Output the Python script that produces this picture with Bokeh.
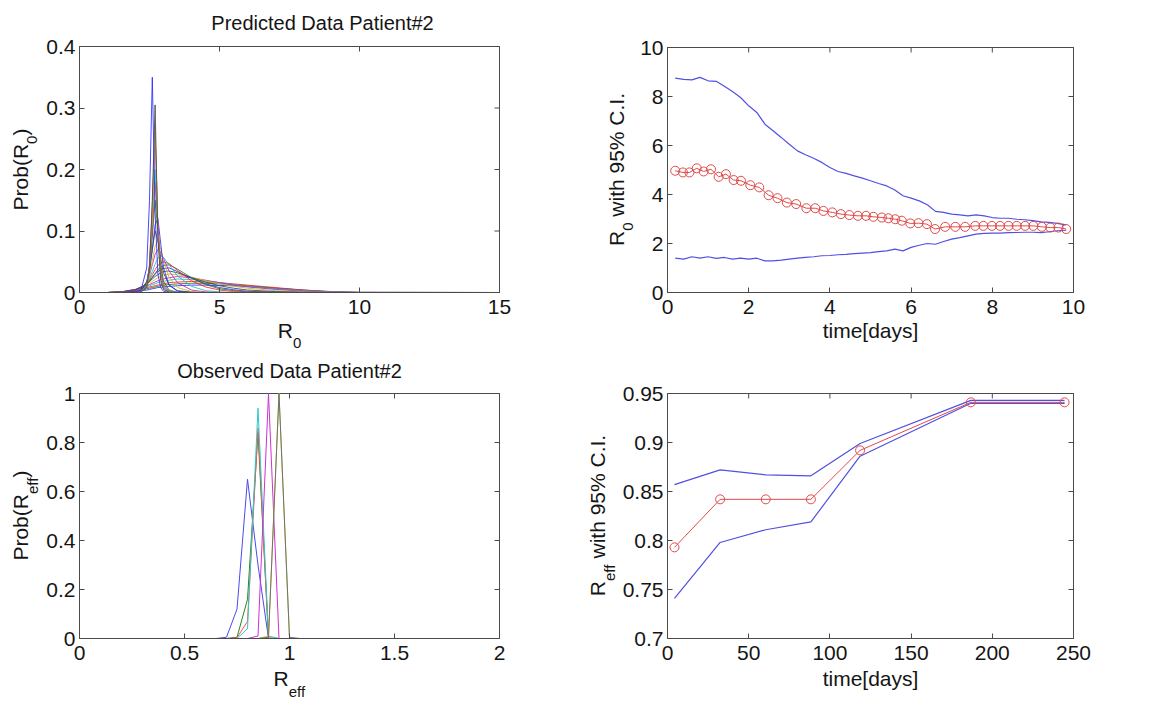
import math
from bokeh.plotting import figure
from bokeh.layouts import column, row
from bokeh.models import Label, FixedTicker, Range1d, LinearAxis
from bokeh.embed import file_html
from bokeh.resources import INLINE

# ---------------- data ----------------
# Panel 1: predicted R0 distributions (grid + one list per curve)
r0_grid = [0, 1.0, 1.5, 2.0, 2.2, 2.4, 2.5, 2.6, 2.7, 2.8, 2.9, 3.0, 3.2, 3.5, 4.0, 4.5, 5.0, 5.5, 6.0, 7.0, 8.0, 9.0, 10.0, 15.0]
pr_b1 = [0, 0, 0.0005, 0.002, 0.003, 0.004, 0.005, 0.006, 0.007, 0.008, 0.0085, 0.009, 0.010, 0.011, 0.012, 0.012, 0.0115, 0.011, 0.010, 0.007, 0.004, 0.0015, 0.0003, 0]
pr_b2 = [0, 0, 0.0008, 0.003, 0.004, 0.006, 0.007, 0.008, 0.009, 0.010, 0.011, 0.012, 0.013, 0.014, 0.015, 0.015, 0.014, 0.013, 0.011, 0.007, 0.0035, 0.001, 0.0002, 0]
pr_b3 = [0, 0, 0.001, 0.004, 0.006, 0.008, 0.009, 0.010, 0.011, 0.012, 0.013, 0.014, 0.016, 0.017, 0.018, 0.017, 0.016, 0.014, 0.012, 0.008, 0.004, 0.001, 0.0002, 0]
pr_b4 = [0, 0, 0.001, 0.005, 0.007, 0.010, 0.011, 0.013, 0.014, 0.016, 0.017, 0.018, 0.020, 0.022, 0.021, 0.019, 0.016, 0.013, 0.010, 0.006, 0.003, 0.0008, 0.0001, 0]
pr_b5 = [0, 0, 0.001, 0.005, 0.008, 0.011, 0.013, 0.015, 0.017, 0.019, 0.021, 0.022, 0.024, 0.026, 0.024, 0.020, 0.016, 0.012, 0.009, 0.005, 0.002, 0.0005, 0, 0]
pr_b6 = [0, 0, 0.001, 0.005, 0.009, 0.013, 0.016, 0.018, 0.021, 0.024, 0.026, 0.028, 0.030, 0.029, 0.025, 0.019, 0.014, 0.010, 0.007, 0.003, 0.001, 0.0002, 0, 0]
pr_b7 = [0, 0, 0.001, 0.005, 0.009, 0.014, 0.018, 0.022, 0.026, 0.029, 0.032, 0.034, 0.035, 0.032, 0.024, 0.017, 0.011, 0.007, 0.004, 0.0015, 0.0004, 0, 0, 0]
pr_b8 = [0, 0, 0.0008, 0.004, 0.008, 0.014, 0.019, 0.024, 0.030, 0.034, 0.037, 0.039, 0.040, 0.034, 0.023, 0.014, 0.008, 0.0045, 0.002, 0.0006, 0.0001, 0, 0, 0]
pr_b9 = [0, 0, 0.0005, 0.003, 0.007, 0.013, 0.019, 0.025, 0.031, 0.037, 0.041, 0.044, 0.045, 0.038, 0.024, 0.013, 0.006, 0.003, 0.001, 0.0003, 0, 0, 0, 0]
pr_b10 = [0, 0, 0.0005, 0.003, 0.007, 0.014, 0.021, 0.029, 0.037, 0.044, 0.048, 0.050, 0.047, 0.036, 0.019, 0.009, 0.004, 0.0015, 0.0005, 0, 0, 0, 0, 0]
pr_n1 = [0, 0, 0.0003, 0.002, 0.006, 0.014, 0.023, 0.034, 0.046, 0.056, 0.060, 0.057, 0.045, 0.027, 0.010, 0.003, 0.001, 0, 0, 0, 0, 0, 0, 0]
pr_n2 = [0, 0, 0.0002, 0.002, 0.006, 0.016, 0.028, 0.045, 0.062, 0.070, 0.066, 0.055, 0.035, 0.016, 0.004, 0.001, 0, 0, 0, 0, 0, 0, 0, 0]
pr_n3 = [0, 0, 0, 0.001, 0.005, 0.016, 0.030, 0.052, 0.075, 0.085, 0.070, 0.050, 0.025, 0.008, 0.0015, 0, 0, 0, 0, 0, 0, 0, 0, 0]
pr_n4 = [0, 0, 0, 0.001, 0.004, 0.018, 0.038, 0.070, 0.100, 0.085, 0.055, 0.032, 0.012, 0.003, 0.0005, 0, 0, 0, 0, 0, 0, 0, 0, 0]
pr_n5 = [0, 0, 0, 0.001, 0.003, 0.015, 0.035, 0.070, 0.110, 0.120, 0.080, 0.040, 0.012, 0.002, 0, 0, 0, 0, 0, 0, 0, 0, 0, 0]
pr_n6 = [0, 0, 0, 0.0005, 0.003, 0.015, 0.040, 0.090, 0.150, 0.100, 0.045, 0.018, 0.004, 0.0005, 0, 0, 0, 0, 0, 0, 0, 0, 0, 0]
pr_n7 = [0, 0, 0, 0.0005, 0.002, 0.012, 0.040, 0.100, 0.180, 0.110, 0.040, 0.013, 0.002, 0, 0, 0, 0, 0, 0, 0, 0, 0, 0, 0]
pr_n8 = [0, 0, 0, 0, 0.002, 0.012, 0.045, 0.120, 0.200, 0.100, 0.035, 0.010, 0.002, 0, 0, 0, 0, 0, 0, 0, 0, 0, 0, 0]
pr_n9 = [0, 0, 0, 0, 0.001, 0.010, 0.045, 0.140, 0.260, 0.110, 0.030, 0.008, 0.001, 0, 0, 0, 0, 0, 0, 0, 0, 0, 0, 0]
pr_n10 = [0, 0, 0, 0, 0.001, 0.008, 0.040, 0.130, 0.270, 0.100, 0.025, 0.006, 0.001, 0, 0, 0, 0, 0, 0, 0, 0, 0, 0, 0]
pr_n11 = [0, 0, 0, 0, 0.001, 0.008, 0.040, 0.150, 0.305, 0.090, 0.020, 0.005, 0.0005, 0, 0, 0, 0, 0, 0, 0, 0, 0, 0, 0]
pr_n12 = [0, 0, 0, 0.001, 0.004, 0.040, 0.150, 0.350, 0.130, 0.030, 0.008, 0.002, 0, 0, 0, 0, 0, 0, 0, 0, 0, 0, 0, 0]
pred_curves = [pr_b1, pr_b2, pr_b3, pr_b4, pr_b5, pr_b6, pr_b7, pr_b8, pr_b9, pr_b10,
               pr_n1, pr_n2, pr_n3, pr_n4, pr_n5, pr_n6, pr_n7, pr_n8, pr_n9, pr_n10, pr_n11, pr_n12]

# Panel 2: R0 over time with 95% C.I.
t_mean = [0.19, 0.38, 0.54, 0.72, 0.89, 1.07, 1.26, 1.44, 1.63, 1.81, 2.04, 2.26, 2.49, 2.71, 2.94, 3.17,
          3.42, 3.64, 3.84, 4.06, 4.27, 4.48, 4.69, 4.89, 5.07, 5.28, 5.44, 5.61, 5.77, 5.98, 6.18, 6.39,
          6.59, 6.84, 7.09, 7.33, 7.58, 7.78, 7.99, 8.19, 8.40, 8.60, 8.81, 9.01, 9.22, 9.43, 9.63, 9.82]
r0_mean = [4.97, 4.90, 4.90, 5.07, 4.94, 5.03, 4.72, 4.83, 4.59, 4.56, 4.38, 4.29, 3.97, 3.85, 3.67, 3.61,
           3.44, 3.44, 3.33, 3.27, 3.20, 3.16, 3.13, 3.13, 3.09, 3.06, 3.03, 2.99, 2.93, 2.82, 2.83, 2.79,
           2.59, 2.68, 2.68, 2.68, 2.72, 2.72, 2.72, 2.72, 2.72, 2.72, 2.72, 2.72, 2.68, 2.65, 2.65, 2.59]
t_ci = [0.19, 0.4, 0.6, 0.8, 1.0, 1.2, 1.4, 1.6, 1.8, 2.0, 2.2, 2.4, 2.6, 2.8, 3.0, 3.2, 3.4, 3.6, 3.8, 4.0,
        4.2, 4.4, 4.6, 4.8, 5.0, 5.2, 5.4, 5.6, 5.8, 6.0, 6.2, 6.4, 6.6, 6.8, 7.0, 7.2, 7.4, 7.6, 7.8, 8.0,
        8.2, 8.4, 8.6, 8.8, 9.0, 9.2, 9.4, 9.6, 9.82]
r0_hi = [8.75, 8.70, 8.68, 8.78, 8.64, 8.62, 8.42, 8.20, 7.96, 7.62, 7.35, 6.87, 6.60, 6.33, 6.05, 5.78,
         5.62, 5.48, 5.31, 5.10, 4.94, 4.86, 4.76, 4.67, 4.56, 4.45, 4.35, 4.18, 3.95, 3.85, 3.74, 3.58,
         3.31, 3.27, 3.20, 3.17, 3.13, 3.17, 3.13, 3.06, 3.03, 3.03, 2.99, 2.97, 2.93, 2.88, 2.86, 2.82, 2.76]
r0_lo = [1.40, 1.36, 1.46, 1.40, 1.46, 1.39, 1.43, 1.36, 1.40, 1.36, 1.40, 1.29, 1.29, 1.32, 1.36, 1.40,
         1.43, 1.46, 1.50, 1.51, 1.54, 1.56, 1.59, 1.61, 1.63, 1.67, 1.70, 1.77, 1.70, 1.84, 1.93, 2.00,
         1.97, 2.08, 2.18, 2.24, 2.31, 2.38, 2.41, 2.42, 2.42, 2.44, 2.45, 2.46, 2.46, 2.44, 2.48, 2.52, 2.54]

# Panel 3: observed Reff distributions
reff_grid = [0, 0.65, 0.7, 0.75, 0.8, 0.85, 0.9, 0.95, 1.0, 1.05, 2.0]
obs_blue = [0, 0, 0.005, 0.12, 0.65, 0.30, 0, 0, 0, 0, 0]
obs_green = [0, 0, 0, 0.005, 0.16, 0.84, 0, 0, 0, 0, 0]
obs_red = [0, 0, 0, 0.003, 0.07, 0.86, 0.003, 0, 0, 0, 0]
obs_cyan = [0, 0, 0, 0, 0.04, 0.94, 0.01, 0, 0, 0, 0]
obs_magenta = [0, 0, 0, 0, 0, 0.01, 1.0, 0, 0, 0, 0]
obs_yellow = [0, 0, 0, 0, 0, 0, 0.01, 1.0, 0, 0, 0]
obs_black = [0, 0, 0, 0, 0, 0, 0.005, 1.0, 0.005, 0, 0]
obs_curves = [obs_blue, obs_green, obs_red, obs_cyan, obs_magenta, obs_yellow, obs_black]

# Panel 4: Reff over time with 95% C.I.
t_obs = [4.3, 32.4, 60.5, 88.3, 118.6, 186.8, 244.5]
reff_mean = [0.793, 0.842, 0.842, 0.842, 0.892, 0.941, 0.941]
reff_hi = [0.857, 0.872, 0.867, 0.866, 0.899, 0.943, 0.943]
reff_lo = [0.741, 0.798, 0.811, 0.819, 0.886, 0.940, 0.940]

# tick labels
p1_xticks = [0, 5, 10, 15]; p1_xlabels = ["0", "5", "10", "15"]
p1_yticks = [0, 0.1, 0.2, 0.3, 0.4]; p1_ylabels = ["0", "0.1", "0.2", "0.3", "0.4"]
p2_xticks = [0, 2, 4, 6, 8, 10]; p2_xlabels = ["0", "2", "4", "6", "8", "10"]
p2_yticks = [0, 2, 4, 6, 8, 10]; p2_ylabels = ["0", "2", "4", "6", "8", "10"]
p3_xticks = [0, 0.5, 1, 1.5, 2]; p3_xlabels = ["0", "0.5", "1", "1.5", "2"]
p3_yticks = [0, 0.2, 0.4, 0.6, 0.8, 1]; p3_ylabels = ["0", "0.2", "0.4", "0.6", "0.8", "1"]
p4_xticks = [0, 50, 100, 150, 200, 250]; p4_xlabels = ["0", "50", "100", "150", "200", "250"]
p4_yticks = [0.7, 0.75, 0.8, 0.85, 0.9, 0.95]; p4_ylabels = ["0.7", "0.75", "0.8", "0.85", "0.9", "0.95"]

# ---------------- style ----------------
FONT = "Liberation Sans"
TICK_SIZE = 21
LABEL_SIZE = 21
SUB_SIZE = 15
TITLE_SIZE = 20
MID = 0.35          # middle of the text box above the baseline, in em
TXT = "#151515"
FRAME = "#4a4a4a"
ML_COLORS = ["#2a2aff", "#1a801a", "#ff2020", "#20bcbc", "#c020c0", "#bcbc20", "#454545"]
BLUE = "#5050e2"
RED = "#e04a4a"

ADV = {"P": .667, "r": .333, "o": .556, "b": .556, "(": .333, "R": .722, "0": .556, ")": .333,
       "e": .556, "f": .278, " ": .278, "w": .722, "i": .222, "t": .278, "h": .556, "9": .556,
       "5": .556, "%": .889, "C": .722, ".": .278, "I": .278, "m": .833, "[": .278, "d": .556,
       "a": .556, "y": .5, "s": .5, "]": .278, "n": .556, "D": .722, "c": .5, "#": .556, "2": .556,
       "O": .778, "v": .5}


def text_w(s, size):
    return sum(ADV.get(ch, 0.556) for ch in s) * size


class Panel:
    """A figure whose frame fills the whole canvas; the axes box sits inside it."""

    def __init__(self, fig_left, fig_top, width, height, box, xr, yr, xt, xl, yt, yl):
        bl, bt, br, bb = box
        self.xr, self.yr = xr, yr
        self.sx = (br - bl) / (xr[1] - xr[0])   # px per x unit
        self.sy = (bb - bt) / (yr[1] - yr[0])   # px per y unit
        self.bl, self.bb = bl, bb
        p = figure(width=width, height=height,
                   x_range=Range1d(self.x_of(fig_left), self.x_of(fig_left + width)),
                   y_range=Range1d(self.y_of(fig_top + height), self.y_of(fig_top)),
                   output_backend="svg", toolbar_location=None,
                   x_axis_location=None, y_axis_location=None, title_location=None,
                   min_border=0, min_border_left=0, min_border_right=0,
                   min_border_top=0, min_border_bottom=0)
        p.outline_line_color = None
        p.xgrid.visible = False
        p.ygrid.visible = False
        p.background_fill_color = "white"
        p.border_fill_color = "white"
        xa = LinearAxis(fixed_location=yr[0], bounds=(xr[0], xr[1]))
        ya = LinearAxis(fixed_location=xr[0], bounds=(yr[0], yr[1]))
        for ax, ticks, labels in ((xa, xt, xl), (ya, yt, yl)):
            ax.ticker = FixedTicker(ticks=ticks)
            ax.major_label_overrides = {t: s for t, s in zip(ticks, labels)}
            ax.major_tick_in = 5
            ax.major_tick_out = 0
            ax.minor_tick_line_color = None
            ax.axis_line_color = FRAME
            ax.major_tick_line_color = FRAME
            ax.major_label_text_font = FONT
            ax.major_label_text_font_size = f"{TICK_SIZE}px"
            ax.major_label_text_color = TXT
        xa.major_label_standoff = 7
        ya.major_label_standoff = 4
        p.add_layout(xa, "below")
        p.add_layout(ya, "left")
        # box edges
        p.quad(left=xr[0], right=xr[1], bottom=yr[0], top=yr[1], fill_color=None,
               line_color=FRAME, line_width=1)
        # inward ticks on the top and right edges
        ty = 5 / self.sy
        tx = 5 / self.sx
        p.segment(x0=xt, y0=[yr[1]] * len(xt), x1=xt, y1=[yr[1] - ty] * len(xt),
                  line_color=FRAME, line_width=1)
        p.segment(x0=[xr[1]] * len(yt), y0=yt, x1=[xr[1] - tx] * len(yt), y1=yt,
                  line_color=FRAME, line_width=1)
        self.p = p

    def x_of(self, px):
        return self.xr[0] + (px - self.bl) / self.sx

    def y_of(self, py):
        return self.yr[0] + (self.bb - py) / self.sy

    def text(self, px, py, text, size, angle=0.0, align="left"):
        # (px, py) is the baseline point; anchor the text box by its middle
        if angle == 0:
            py = py - MID * size
        else:
            px = px - MID * size
        self.p.add_layout(Label(x=self.x_of(px), y=self.y_of(py), x_units="data", y_units="data",
                                text=text, angle=angle, text_font=FONT,
                                text_font_size=f"{size}px", text_align=align,
                                text_baseline="middle", text_color=TXT))

    def rich(self, c, base, segs, rotated=False, sub_off=12):
        sizes = [SUB_SIZE if s else LABEL_SIZE for _, s in segs]
        total = sum(text_w(t, z) for (t, _), z in zip(segs, sizes))
        pos = -total / 2
        for (t, s), z in zip(segs, sizes):
            off = sub_off if s else 0
            stripped = t.lstrip(" ")
            lead = text_w(t[:len(t) - len(stripped)], z)
            q = pos + lead
            if rotated:
                self.text(base + off, c - q, stripped, z, angle=math.pi / 2)
            else:
                self.text(c + q, base + off, stripped, z)
            pos += text_w(t, z)


# ---------------- panels ----------------
P1 = Panel(0, 0, 568, 358, (79, 46, 499, 292), (0, 15), (0, 0.4),
           p1_xticks, p1_xlabels, p1_yticks, p1_ylabels)
for i, ys in enumerate(pred_curves):
    P1.p.line(r0_grid, ys, line_color=ML_COLORS[i % 7], line_width=1, line_alpha=0.85)

P2 = Panel(568, 0, 580, 358, (667, 47, 1073, 292), (0, 10), (0, 10),
           p2_xticks, p2_xlabels, p2_yticks, p2_ylabels)
P2.p.line(t_ci, r0_hi, line_color=BLUE, line_width=1.2)
P2.p.line(t_ci, r0_lo, line_color=BLUE, line_width=1.2)
P2.p.line(t_mean, r0_mean, line_color=RED, line_width=1)
P2.p.scatter(t_mean, r0_mean, marker="circle", size=9, fill_color=None, line_color=RED, line_width=1)

P3 = Panel(0, 358, 568, 346, (79, 393, 499, 638), (0, 2), (0, 1),
           p3_xticks, p3_xlabels, p3_yticks, p3_ylabels)
obs_colors = ["#4a4aee", "#1f8a1f", "#ff5050", "#30c8c8", "#d030d0", "#c8c830", "#707070"]
for ys, col in zip(obs_curves, obs_colors):
    P3.p.line(reff_grid, ys, line_color=col, line_width=1)

P4 = Panel(568, 358, 580, 346, (667, 393, 1073, 638), (0, 250), (0.7, 0.95),
           p4_xticks, p4_xlabels, p4_yticks, p4_ylabels)
P4.p.line(t_obs, reff_hi, line_color=BLUE, line_width=1.2)
P4.p.line(t_obs, reff_lo, line_color=BLUE, line_width=1.2)
P4.p.line(t_obs, reff_mean, line_color=RED, line_width=1)
P4.p.scatter(t_obs, reff_mean, marker="circle", size=9, fill_color=None, line_color=RED, line_width=1)

# ---------------- texts ----------------
P1.text(322, 29, "Predicted Data Patient#2", TITLE_SIZE, align="center")
P3.text(289, 377, "Observed Data Patient#2", TITLE_SIZE, align="center")

P1.rich(289, 337, [("R", False), ("0", True)], sub_off=11)
P1.rich(169, 27, [("Prob(R", False), ("0", True), (")", False)], rotated=True, sub_off=10)
P2.rich(870, 337, [("time[days]", False)])
P2.rich(169, 623, [("R", False), ("0", True), (" with 95% C.I.", False)], rotated=True, sub_off=10)
P3.rich(289, 685, [("R", False), ("eff", True)], sub_off=11)
P3.rich(515, 27, [("Prob(R", False), ("eff", True), (")", False)], rotated=True, sub_off=10)
P4.rich(870, 685, [("time[days]", False)])
P4.rich(515, 604, [("R", False), ("eff", True), (" with 95% C.I.", False)], rotated=True, sub_off=10)

layout = column(row(P1.p, P2.p), row(P3.p, P4.p))
open("out.html", "w").write(file_html(layout, INLINE))
